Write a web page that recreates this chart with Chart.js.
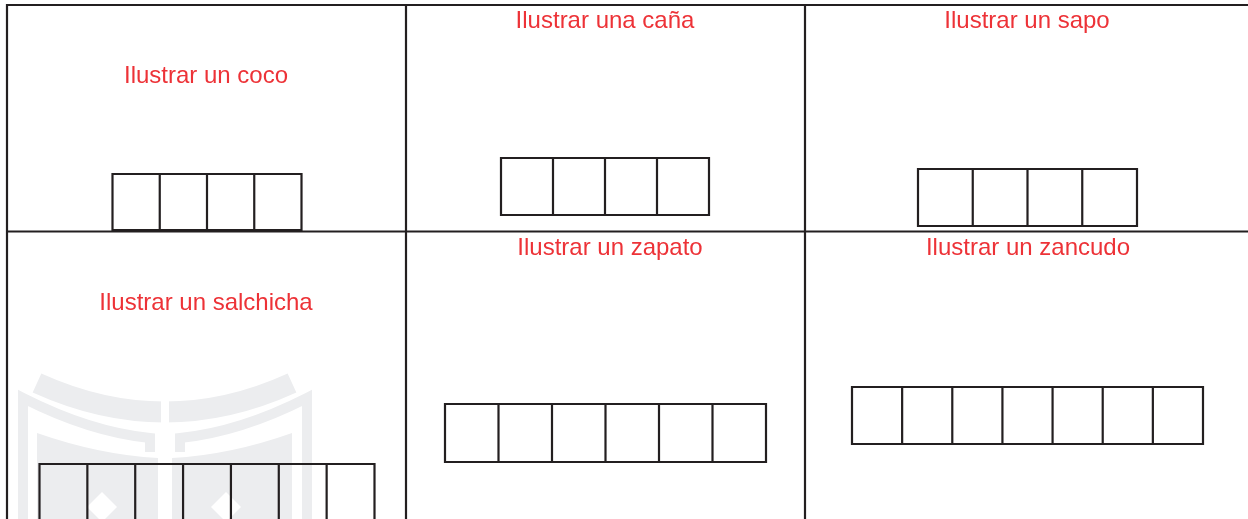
<!DOCTYPE html>
<html>
<head>
    <meta charset="utf-8">
    <title>Ilustrar palabras</title>
    <script src="https://cdn.jsdelivr.net/npm/chart.js"></script>
    <style>
        html, body { margin: 0; padding: 0; background: #ffffff; }
        #wrap { width: 1248px; height: 519px; position: relative; }
    </style>
</head>
<body>
<div id="wrap">
    <canvas id="sheet"></canvas>
</div>
<script>
    // worksheet content
    const titles = ['Ilustrar un coco', 'Ilustrar una caña', 'Ilustrar un sapo',
                    'Ilustrar un salchicha', 'Ilustrar un zapato', 'Ilustrar un zancudo'];
    const cellCounts = [4, 4, 4, 7, 6, 7];

    // layout of each panel (page pixels)
    const titlePos = [[206, 83], [605, 28], [1027, 28], [206, 310], [610, 255], [1028, 255]];
    const boxPos = [ // left, top, total width, height
        [112.5, 174, 189, 56],
        [501, 158, 208, 57],
        [918, 169, 219, 57],
        [39.5, 464, 335, 60],
        [445, 404, 321, 58],
        [852, 387, 351, 57]
    ];
    const ink = '#231f20';
    const red = '#ed3237';
    const shade = '#ecedef';

    // table lines: [x1, y1, x2, y2]
    const tableLines = [
        [7, 5, 1250, 5],
        [7, 231.5, 1250, 231.5],
        [7, 5, 7, 521],
        [406, 5, 406, 521],
        [805, 5, 805, 521]
    ];

    function segmentsToData(segs) {
        let pts = [];
        segs.forEach(s => {
            pts.push({x: s[0], y: s[1]}, {x: s[2], y: s[3]}, {x: null, y: null});
        });
        return pts;
    }

    function boxSegments(i) {
        let [L, T, W, H] = boxPos[i];
        let n = cellCounts[i];
        let cw = W / n;
        let segs = [[L, T, L + W, T], [L, T + H, L + W, T + H]];
        for (let k = 0; k <= n; k++) {
            segs.push([L + k * cw, T, L + k * cw, T + H]);
        }
        return segs;
    }

    let datasets = [{
        data: segmentsToData(tableLines),
        borderColor: ink,
        borderWidth: 2.2,
        borderCapStyle: 'square'
    }];
    titles.forEach((t, i) => {
        datasets.push({
            label: t,
            data: segmentsToData(boxSegments(i)),
            borderColor: ink,
            borderWidth: 2.2,
            borderCapStyle: 'square'
        });
    });

    // faint logo watermark behind the salchicha panel
    const watermark = {
        id: 'watermark',
        beforeDatasetsDraw(chart) {
            const c = chart.ctx;
            const sx = chart.scales.x, sy = chart.scales.y;
            const P = (x, y) => [sx.getPixelForValue(x), sy.getPixelForValue(y)];
            c.save();
            c.strokeStyle = shade;
            c.fillStyle = shade;
            c.lineCap = 'butt';
            // top arc
            c.lineWidth = 21;
            c.beginPath();
            c.moveTo(...P(37, 383));
            c.quadraticCurveTo(...P(165, 441), ...P(292, 383));
            c.stroke();
            // outer arch
            c.lineWidth = 10;
            c.beginPath();
            c.moveTo(...P(23, 521));
            c.lineTo(...P(23, 398));
            c.quadraticCurveTo(...P(90, 432), ...P(150, 438));
            c.lineTo(...P(150, 452));
            c.stroke();
            c.beginPath();
            c.moveTo(...P(307, 521));
            c.lineTo(...P(307, 398));
            c.quadraticCurveTo(...P(240, 432), ...P(180, 438));
            c.lineTo(...P(180, 452));
            c.stroke();
            // inner pages
            c.beginPath();
            c.moveTo(...P(37, 521));
            c.lineTo(...P(37, 433));
            c.quadraticCurveTo(...P(100, 455), ...P(158, 458));
            c.lineTo(...P(158, 521));
            c.closePath();
            c.fill();
            c.beginPath();
            c.moveTo(...P(292, 521));
            c.lineTo(...P(292, 433));
            c.quadraticCurveTo(...P(230, 455), ...P(172, 458));
            c.lineTo(...P(172, 521));
            c.closePath();
            c.fill();
            // centre gap and diamonds
            c.fillStyle = '#ffffff';
            c.fillRect(...P(161, 395), 8, 130);
            [[102, 507], [226, 507]].forEach(d => {
                c.beginPath();
                c.moveTo(...P(d[0], d[1] - 15));
                c.lineTo(...P(d[0] + 15, d[1]));
                c.lineTo(...P(d[0], d[1] + 15));
                c.lineTo(...P(d[0] - 15, d[1]));
                c.closePath();
                c.fill();
            });
            c.restore();
        },
        afterDatasetsDraw(chart) {
            const c = chart.ctx;
            const sx = chart.scales.x, sy = chart.scales.y;
            c.save();
            c.fillStyle = red;
            c.font = '24px "Liberation Sans", Arial, sans-serif';
            c.textAlign = 'center';
            c.textBaseline = 'alphabetic';
            titles.forEach((t, i) => {
                c.fillText(t, sx.getPixelForValue(titlePos[i][0]), sy.getPixelForValue(titlePos[i][1]));
            });
            c.restore();
        }
    };

    new Chart(document.getElementById('sheet'), {
        type: 'scatter',
        data: { datasets: datasets },
        options: {
            responsive: true,
            maintainAspectRatio: false,
            animation: false,
            showLine: true,
            spanGaps: false,
            elements: { point: { radius: 0, hoverRadius: 0 } },
            layout: { padding: 0 },
            plugins: { legend: { display: false }, tooltip: { enabled: false } },
            scales: {
                x: { type: 'linear', min: 0, max: 1248, display: false },
                y: { type: 'linear', min: 0, max: 519, reverse: true, display: false }
            }
        },
        plugins: [watermark]
    });
</script>
</body>
</html>
